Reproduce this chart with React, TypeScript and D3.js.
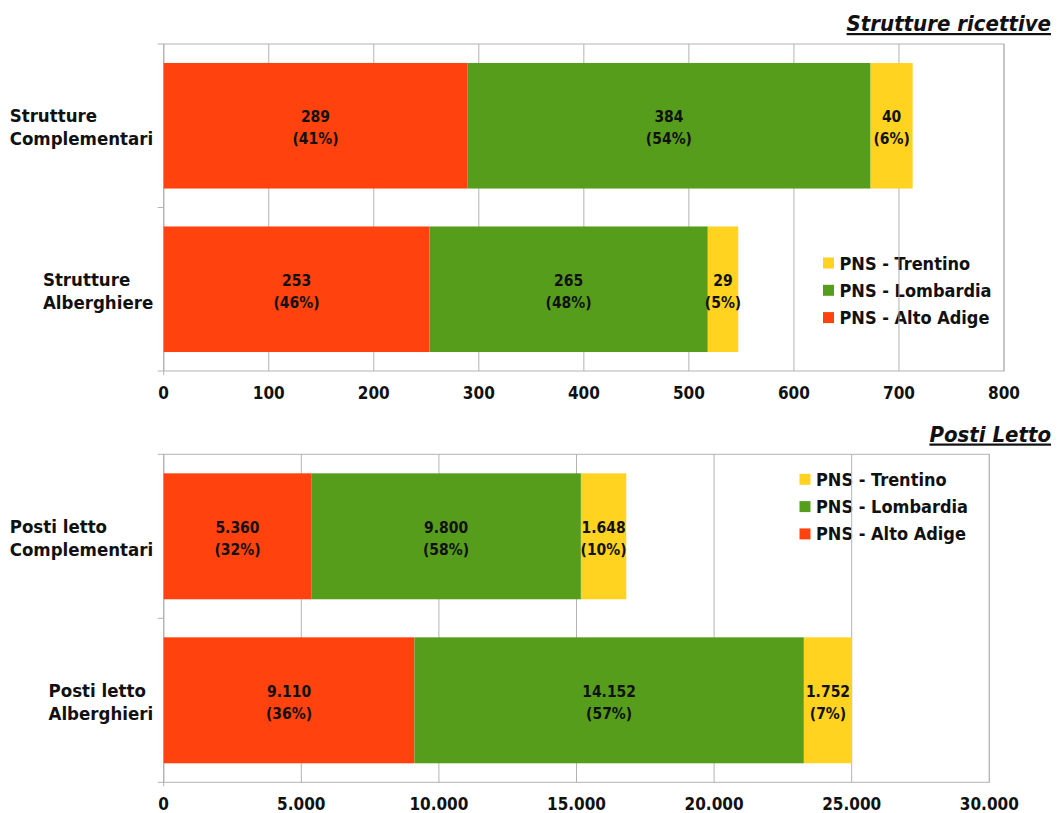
import React, { useEffect, useRef } from "react";
import * as d3 from "d3";

const seriesNames = ["PNS - Alto Adige", "PNS - Lombardia", "PNS - Trentino"];
const seriesColors = ["#ff420e", "#579d1c", "#ffd320"];

const cat1 = [["Strutture", "Complementari"], ["Strutture", "Alberghiere"]];
const altoAdige1 = [289, 253];
const lombardia1 = [384, 265];
const trentino1 = [40, 29];
const ticks1 = [0, 100, 200, 300, 400, 500, 600, 700, 800];

const cat2 = [["Posti letto", "Complementari"], ["Posti letto", "Alberghieri"]];
const altoAdige2 = [5360, 9110];
const lombardia2 = [9800, 14152];
const trentino2 = [1648, 1752];
const ticks2 = [0, 5000, 10000, 15000, 20000, 25000, 30000];

const title1 = "Strutture ricettive";
const title2 = "Posti Letto";

const FONT = "'DejaVu Sans Condensed', 'DejaVu Sans', sans-serif";
const GRID = "#b3b3b3";

const itLocale = d3.formatLocale({ decimal: ",", thousands: ".", grouping: [3], currency: ["€", ""] });
const fmt = itLocale.format(",");

type Cfg = {
  cats: string[][];
  series: number[][];
  ticks: number[];
  left: number; right: number; top: number; bottom: number;
  legendX: number; legendY: number;
  title: string; titleY: number;
};

function drawChart(svg: d3.Selection<SVGSVGElement, unknown, null, undefined>, c: Cfg) {
  const g = svg.append("g");
  const x = d3.scaleLinear().domain([c.ticks[0], c.ticks[c.ticks.length - 1]]).range([c.left, c.right]);
  const keys = c.cats.map((_, i) => String(i));
  const y = d3.scaleBand().domain(keys).range([c.top, c.bottom]).paddingInner(0.232).paddingOuter(0.116);

  // plot frame
  g.append("rect").attr("x", c.left).attr("y", c.top).attr("width", c.right - c.left).attr("height", c.bottom - c.top)
    .attr("fill", "none").attr("stroke", GRID).attr("stroke-width", 1);

  // legend (under grid lines)
  const lg = g.append("g");
  const order = [2, 1, 0];
  order.forEach((si, k) => {
    const cy = c.legendY + k * 27.3;
    lg.append("rect").attr("x", c.legendX).attr("y", cy - 5.5).attr("width", 11).attr("height", 11).attr("fill", seriesColors[si]);
    lg.append("text").attr("x", c.legendX + 16.5).attr("y", cy + 6.5).text(seriesNames[si])
      .attr("font-family", FONT).attr("font-weight", "bold").attr("font-size", 18).attr("fill", "#111");
  });

  // grid lines
  c.ticks.forEach((t) => {
    g.append("line").attr("x1", x(t)).attr("x2", x(t)).attr("y1", c.top).attr("y2", c.bottom)
      .attr("stroke", GRID).attr("stroke-width", 1);
  });
  // category axis line & ticks
  g.append("line").attr("x1", c.left).attr("x2", c.left).attr("y1", c.top).attr("y2", c.bottom + 4).attr("stroke", GRID);
  const step = y.step();
  const bounds = [c.top, c.top + step, c.bottom];
  bounds.forEach((b) => {
    g.append("line").attr("x1", c.left - 6).attr("x2", c.left).attr("y1", b).attr("y2", b).attr("stroke", GRID);
  });

  // bars
  c.cats.forEach((_, ci) => {
    const total = d3.sum(c.series, (s) => s[ci]);
    let acc = 0;
    c.series.forEach((s, si) => {
      const v = s[ci];
      const x0 = x(acc), x1 = x(acc + v);
      acc += v;
      const by = y(String(ci))!;
      const bh = y.bandwidth();
      g.append("rect").attr("x", x0).attr("y", by).attr("width", x1 - x0).attr("height", bh).attr("fill", seriesColors[si]);
      const cx = (x0 + x1) / 2;
      const cy = by + bh / 2;
      const pct = Math.round((v / total) * 100);
      const t = g.append("text").attr("text-anchor", "middle").attr("font-family", FONT).attr("font-weight", "bold")
        .attr("font-size", 15.5).attr("fill", "#111");
      t.append("tspan").attr("x", cx).attr("y", cy - 3.5).text(fmt(v));
      t.append("tspan").attr("x", cx).attr("y", cy + 18.5).text(`(${pct}%)`);
    });
  });

  // category labels (left-aligned block, right edge at left-10)
  c.cats.forEach((lines, ci) => {
    const cy = y(String(ci))! + y.bandwidth() / 2;
    const t = g.append("text").attr("font-family", FONT).attr("font-weight", "bold").attr("font-size", 18.5).attr("fill", "#111");
    const spans = lines.map((ln, li) => t.append("tspan").attr("y", cy - 3.5 + li * 23).text(ln));
    const widths = spans.map((sp) => (sp.node() as SVGTSpanElement).getComputedTextLength());
    const w = Math.max(...widths);
    spans.forEach((sp) => sp.attr("x", c.left - 10.5 - w));
  });

  // tick labels
  c.ticks.forEach((tv) => {
    g.append("text").attr("x", x(tv)).attr("y", c.bottom + 28).attr("text-anchor", "middle").text(fmt(tv))
      .attr("font-family", FONT).attr("font-weight", "bold").attr("font-size", 17).attr("fill", "#111");
  });

  // title
  g.append("text").attr("x", 1051).attr("y", c.titleY).attr("text-anchor", "end").text(c.title)
    .attr("font-family", FONT).attr("font-weight", "bold").attr("font-style", "italic").attr("font-size", 22)
    .attr("text-decoration", "underline").attr("fill", "#111");
}

export default function App() {
  const ref = useRef<SVGSVGElement>(null);
  useEffect(() => {
    const svg = d3.select(ref.current!);
    svg.selectAll("*").remove();
    drawChart(svg, {
      cats: cat1, series: [altoAdige1, lombardia1, trentino1], ticks: ticks1,
      left: 163.7, right: 1004, top: 44, bottom: 371,
      legendX: 823, legendY: 263, title: title1, titleY: 31,
    });
    drawChart(svg, {
      cats: cat2, series: [altoAdige2, lombardia2, trentino2], ticks: ticks2,
      left: 163.7, right: 989.3, top: 454.3, bottom: 782.3,
      legendX: 799.5, legendY: 479.3, title: title2, titleY: 441.5,
    });
  }, []);
  return (
    <svg ref={ref} width={1058} height={813}
      style={{ position: "absolute", left: 0, top: 0, background: "#fff", display: "block" }} />
  );
}
